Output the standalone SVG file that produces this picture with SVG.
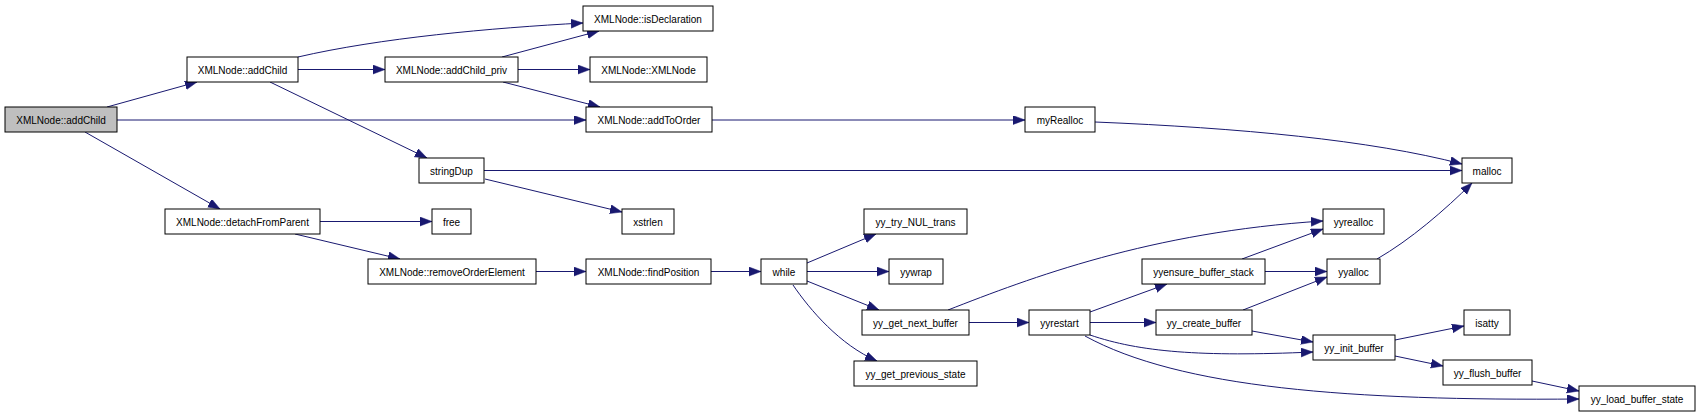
<svg xmlns="http://www.w3.org/2000/svg" width="1700" height="417" viewBox="0 0 1700 417">
<style>
.n rect{fill:#ffffff;stroke:#000000;stroke-width:1}
.n.root rect{fill:#bfbfbf}
.n text{font-family:"Liberation Sans",Arial,sans-serif;font-size:10px;fill:#000000;text-anchor:middle}
.e path{fill:none;stroke:#191970;stroke-width:1;marker-end:url(#ah)}
</style>
<defs>
<marker id="ah" markerUnits="userSpaceOnUse" markerWidth="13" markerHeight="10" refX="12" refY="4.5" orient="auto">
<path d="M0,0 L12,4.5 L0,9 z" fill="#191970" stroke="#191970" stroke-width="0.5"/>
</marker>
</defs>
<rect width="1700" height="417" fill="#ffffff"/>
<g id="connectors" class="e">
<path d="M107,107 L197,82"/>
<path d="M117,120 L586,120"/>
<path d="M85,132 L220,209"/>
<path d="M298,57 C380,38 490,28 583,23"/>
<path d="M298,69.5 L385,69.5"/>
<path d="M270,82 L427,158"/>
<path d="M502,57 L599,31"/>
<path d="M518,69.5 L590,69.5"/>
<path d="M503,82 L600,107"/>
<path d="M712,120 L1025,120"/>
<path d="M1095,122 C1240,128 1370,140 1462,164"/>
<path d="M484,170.5 L1462,170.5"/>
<path d="M485,179 L622,212"/>
<path d="M320,221.5 L432,221.5"/>
<path d="M295,234 L400,259"/>
<path d="M536,271.5 L586,271.5"/>
<path d="M711,271.5 L761,271.5"/>
<path d="M807,263 L876,234"/>
<path d="M807,271.5 L889,271.5"/>
<path d="M807,281 L879,310"/>
<path d="M793,285 C810,310 840,345 877,361"/>
<path d="M948,310 C1030,278 1150,232 1323,221"/>
<path d="M969,322.5 L1029,322.5"/>
<path d="M1090,312 L1167,284"/>
<path d="M1090,322.5 L1156,322.5"/>
<path d="M1090,335 C1140,352 1200,357 1313,352"/>
<path d="M1085,336 C1180,388 1350,401 1579,399"/>
<path d="M1243,310 L1327,277"/>
<path d="M1252,331 L1313,342"/>
<path d="M1242,259 L1323,229"/>
<path d="M1265,271.5 L1327,271.5"/>
<path d="M1377,259 C1410,240 1445,210 1472,183"/>
<path d="M1395,340 L1464,326"/>
<path d="M1395,356 L1443,366"/>
<path d="M1532,381 L1579,391"/>
</g>
<g id="n_root" class="n root"><rect x="5" y="107" width="112" height="25"/><text x="61" y="123.5">XMLNode::addChild</text></g>
<g id="n_addChild" class="n"><rect x="187" y="57" width="111" height="25"/><text x="242.5" y="73.5">XMLNode::addChild</text></g>
<g id="n_detachFromParent" class="n"><rect x="165" y="209" width="155" height="25"/><text x="242.5" y="225.5">XMLNode::detachFromParent</text></g>
<g id="n_isDeclaration" class="n"><rect x="583" y="6" width="130" height="25"/><text x="648" y="22.5">XMLNode::isDeclaration</text></g>
<g id="n_addChild_priv" class="n"><rect x="385" y="57" width="133" height="25"/><text x="451.5" y="73.5">XMLNode::addChild_priv</text></g>
<g id="n_XMLNode" class="n"><rect x="590" y="57" width="117" height="25"/><text x="648.5" y="73.5">XMLNode::XMLNode</text></g>
<g id="n_addToOrder" class="n"><rect x="586" y="107" width="126" height="25"/><text x="649" y="123.5">XMLNode::addToOrder</text></g>
<g id="n_stringDup" class="n"><rect x="419" y="158" width="65" height="25"/><text x="451.5" y="174.5">stringDup</text></g>
<g id="n_free" class="n"><rect x="432" y="209" width="39" height="25"/><text x="451.5" y="225.5">free</text></g>
<g id="n_xstrlen" class="n"><rect x="622" y="209" width="52" height="25"/><text x="648" y="225.5">xstrlen</text></g>
<g id="n_myRealloc" class="n"><rect x="1025" y="107" width="70" height="25"/><text x="1060" y="123.5">myRealloc</text></g>
<g id="n_malloc" class="n"><rect x="1462" y="158" width="50" height="25"/><text x="1487" y="174.5">malloc</text></g>
<g id="n_removeOrderElement" class="n"><rect x="368" y="259" width="168" height="25"/><text x="452" y="275.5">XMLNode::removeOrderElement</text></g>
<g id="n_findPosition" class="n"><rect x="586" y="259" width="125" height="25"/><text x="648.5" y="275.5">XMLNode::findPosition</text></g>
<g id="n_while" class="n"><rect x="761" y="259" width="46" height="25"/><text x="784" y="275.5">while</text></g>
<g id="n_yy_try_NUL_trans" class="n"><rect x="864" y="209" width="103" height="25"/><text x="915.5" y="225.5">yy_try_NUL_trans</text></g>
<g id="n_yywrap" class="n"><rect x="889" y="259" width="54" height="25"/><text x="916" y="275.5">yywrap</text></g>
<g id="n_yy_get_next_buffer" class="n"><rect x="862" y="310" width="107" height="25"/><text x="915.5" y="326.5">yy_get_next_buffer</text></g>
<g id="n_yy_get_previous_state" class="n"><rect x="854" y="361" width="123" height="25"/><text x="915.5" y="377.5">yy_get_previous_state</text></g>
<g id="n_yyrestart" class="n"><rect x="1029" y="310" width="61" height="25"/><text x="1059.5" y="326.5">yyrestart</text></g>
<g id="n_yyensure_buffer_stack" class="n"><rect x="1142" y="259" width="123" height="25"/><text x="1203.5" y="275.5">yyensure_buffer_stack</text></g>
<g id="n_yy_create_buffer" class="n"><rect x="1156" y="310" width="96" height="25"/><text x="1204" y="326.5">yy_create_buffer</text></g>
<g id="n_yyrealloc" class="n"><rect x="1323" y="209" width="61" height="25"/><text x="1353.5" y="225.5">yyrealloc</text></g>
<g id="n_yyalloc" class="n"><rect x="1327" y="259" width="53" height="25"/><text x="1353.5" y="275.5">yyalloc</text></g>
<g id="n_yy_init_buffer" class="n"><rect x="1313" y="335" width="82" height="25"/><text x="1354" y="351.5">yy_init_buffer</text></g>
<g id="n_isatty" class="n"><rect x="1464" y="310" width="46" height="25"/><text x="1487" y="326.5">isatty</text></g>
<g id="n_yy_flush_buffer" class="n"><rect x="1443" y="360" width="89" height="25"/><text x="1487.5" y="376.5">yy_flush_buffer</text></g>
<g id="n_yy_load_buffer_state" class="n"><rect x="1579" y="386" width="116" height="25"/><text x="1637" y="402.5">yy_load_buffer_state</text></g>
</svg>
